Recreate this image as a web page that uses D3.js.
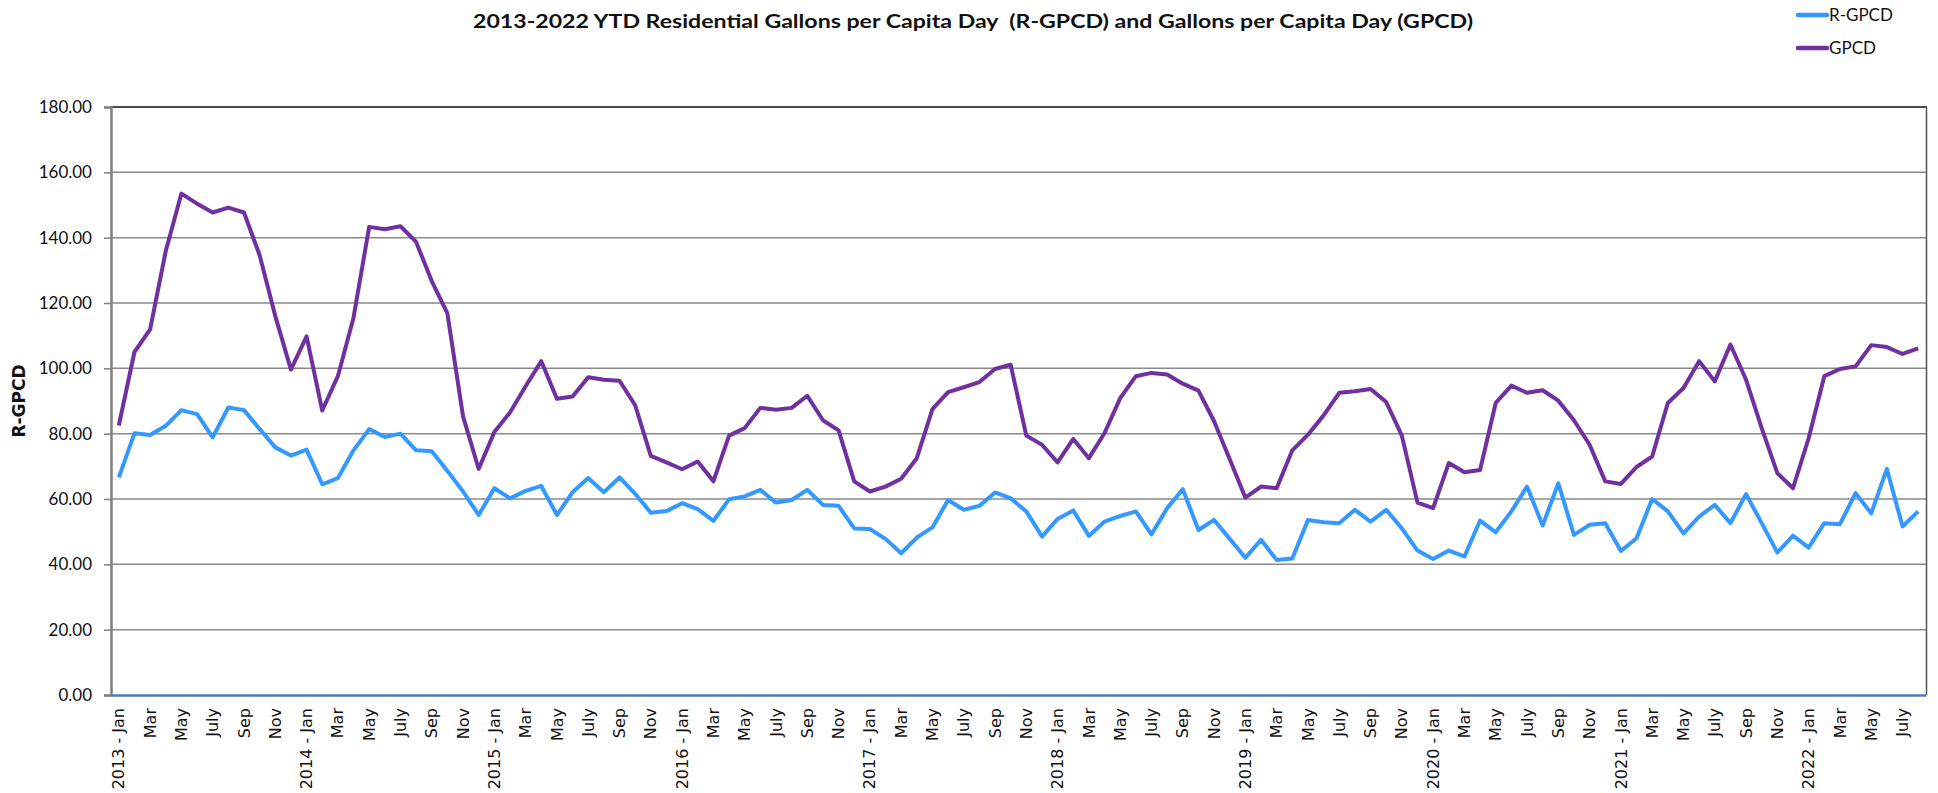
<!DOCTYPE html>
<html>
<head>
<meta charset="utf-8">
<script src="https://cdn.jsdelivr.net/npm/d3@7"></script>
<style>
  html, body { margin: 0; padding: 0; background: #fff; }
  svg { display: block; }
</style>
</head>
<body>
<svg id="chart" width="1938" height="793"></svg>
<script>
// ---- data ----
const years = [2013, 2014, 2015, 2016, 2017, 2018, 2019, 2020, 2021, 2022];
const monthNames = ["Jan","Feb","Mar","Apr","May","Jun","July","Aug","Sep","Oct","Nov","Dec"];
const seriesNames = ["R-GPCD", "GPCD"];
const yTicks = [0, 20, 40, 60, 80, 100, 120, 140, 160, 180];

const rgpcd = [
  66.6,80.1,79.6,82.4,87.2,86.0,78.9,88.0,87.2,81.4,75.8,73.3,
  75.1,64.5,66.4,74.9,81.4,79.0,80.0,74.9,74.6,68.6,62.3,55.1,
  63.3,60.2,62.5,64.0,55.1,62.1,66.4,62.1,66.6,61.6,55.8,56.3,
  58.7,56.9,53.3,59.9,60.8,62.8,58.9,59.7,62.8,58.2,57.9,51.0,
  50.8,47.8,43.4,48.2,51.3,59.7,56.7,57.9,62.0,60.2,56.2,48.5,
  53.9,56.5,48.7,53.1,54.8,56.2,49.2,57.2,63.0,50.5,53.6,47.8,
  42.0,47.5,41.3,41.8,53.6,52.9,52.6,56.7,53.1,56.7,51.0,44.2,
  41.6,44.2,42.4,53.4,49.8,56.2,63.8,51.9,64.8,49.0,52.1,52.6,
  44.1,48.0,60.0,56.2,49.5,54.6,58.2,52.6,61.5,52.6,43.6,48.8,
  45.1,52.6,52.3,61.8,55.6,69.2,51.6,56.2
];
const gpcd = [
  82.5,105.0,111.9,135.9,153.5,150.4,147.7,149.2,147.7,134.6,116.0,99.6,
  109.8,87.1,97.6,115.5,143.3,142.6,143.5,138.7,126.7,116.8,85.3,69.2,
  80.5,86.5,94.5,102.2,90.7,91.4,97.3,96.5,96.2,88.7,73.2,71.2,
  69.1,71.5,65.4,79.4,81.7,87.9,87.3,87.9,91.6,84.1,81.0,65.4,
  62.3,63.8,66.2,72.5,87.5,92.7,94.2,95.8,99.8,101.1,79.4,76.6,
  71.2,78.4,72.5,80.2,90.9,97.6,98.6,98.1,95.3,93.2,83.8,72.2,
  60.4,63.8,63.3,74.9,79.7,85.6,92.5,93.0,93.7,89.7,79.4,58.9,
  57.2,71.0,68.2,68.9,89.4,94.7,92.5,93.3,90.1,84.1,76.6,65.4,
  64.6,69.8,73.0,89.4,94.0,102.2,96.0,107.3,96.5,81.7,67.9,63.3,
  78.6,97.6,99.8,100.6,107.1,106.5,104.4,106.1
];

// categories
const categories = [];
years.forEach(yr => monthNames.forEach((m, mi) => {
  if (categories.length < rgpcd.length) categories.push({year: yr, month: m, mi: mi});
}));
function tickLabel(c) {
  if (c.mi === 0) return c.year + " - " + c.month;
  if (c.mi % 2 === 0) return c.month;
  return "";
}

// ---- layout ----
const svg = d3.select("#chart");
const plotLeft = 111, plotRight = 1926, plotTop = 107, plotBottom = 695;

const x = d3.scaleBand().domain(d3.range(categories.length)).range([plotLeft, plotRight]).paddingInner(0).paddingOuter(0);
const y = d3.scaleLinear().domain([0, 180]).range([plotBottom, plotTop]);
const cx = i => x(i) + x.bandwidth() / 2;

// gridlines
svg.append("g").selectAll("line").data(yTicks.filter(t => t > 0 && t < 180)).join("line")
  .attr("x1", plotLeft).attr("x2", plotRight)
  .attr("y1", d => y(d)).attr("y2", d => y(d))
  .attr("stroke", "#8a8a8a").attr("stroke-width", 1.5);

// top and right border
svg.append("line").attr("x1", plotLeft).attr("x2", plotRight + 1).attr("y1", plotTop).attr("y2", plotTop)
  .attr("stroke", "#111").attr("stroke-width", 1.5);
svg.append("line").attr("x1", plotRight + 0.5).attr("x2", plotRight + 0.5).attr("y1", plotTop).attr("y2", plotBottom)
  .attr("stroke", "#555").attr("stroke-width", 1.5);

// y axis
const yAxis = d3.axisLeft(y).tickValues(yTicks).tickSize(7).tickPadding(12)
  .tickFormat(d3.format(".2f"));
const gy = svg.append("g").attr("transform", `translate(${plotLeft},0)`).call(yAxis);
gy.attr("font-size", null).attr("font-family", null);
gy.select(".domain").attr("stroke", "#808080").attr("stroke-width", 2.5);
gy.selectAll(".tick line").attr("stroke", "#808080").attr("stroke-width", 1.5);
gy.selectAll(".tick text")
  .style("font-family", "Lato, 'Open Sans', sans-serif")
  .style("font-size", "17px").attr("fill", "#111");

// x axis
const xAxis = d3.axisBottom(x).tickSize(0).tickFormat(i => tickLabel(categories[i]));
const gx = svg.append("g").attr("transform", `translate(0,${plotBottom})`).call(xAxis);
gx.attr("font-size", null).attr("font-family", null);
gx.select(".domain").attr("stroke", "#4a7ebb").attr("stroke-width", 2.5);
gx.selectAll(".tick text")
  .style("font-family", "'DejaVu Sans', Verdana, sans-serif")
  .style("font-size", "16px").attr("fill", "#111")
  .attr("text-anchor", "end")
  .attr("transform", "rotate(-90)")
  .attr("x", -13).attr("y", 0).attr("dy", "0.35em");

// y axis title
svg.append("text")
  .attr("transform", `translate(25,${(plotTop + plotBottom) / 2}) rotate(-90)`)
  .attr("text-anchor", "middle")
  .style("font-family", "'DejaVu Sans', Verdana, sans-serif")
  .style("font-weight", "bold").style("font-size", "17px").attr("fill", "#111")
  .text("R-GPCD");

// lines
const colors = {"R-GPCD": "#3399ff", "GPCD": "#7030a0"};
const line = d3.line().x((d, i) => cx(i)).y(d => y(d));
svg.append("path").datum(gpcd).attr("d", line).attr("fill", "none")
  .attr("stroke", colors["GPCD"]).attr("stroke-width", 4).attr("stroke-linejoin", "round");
svg.append("path").datum(rgpcd).attr("d", line).attr("fill", "none")
  .attr("stroke", colors["R-GPCD"]).attr("stroke-width", 4).attr("stroke-linejoin", "round");

// title
svg.append("text")
  .attr("x", 973).attr("y", 28).attr("text-anchor", "middle")
  .style("font-family", "Lato, 'Open Sans', sans-serif")
  .style("font-weight", "bold").style("font-size", "19px").style("white-space", "pre").attr("fill", "#111")
  .attr("textLength", 1000).attr("lengthAdjust", "spacingAndGlyphs")
  .text("2013-2022 YTD Residential Gallons per Capita Day  (R-GPCD) and Gallons per Capita Day (GPCD)");

// legend
const lg = svg.append("g");
seriesNames.forEach((s, k) => {
  const ly = 15 + k * 33;
  lg.append("line").attr("x1", 1798).attr("x2", 1827).attr("y1", ly).attr("y2", ly)
    .attr("stroke", colors[s]).attr("stroke-width", 4.5).attr("stroke-linecap", "round");
  lg.append("text").attr("x", 1829).attr("y", ly).attr("dy", "0.35em")
    .style("font-family", "Lato, 'Open Sans', sans-serif").style("font-size", "17px").attr("fill", "#111")
    .text(s);
});
</script>
</body>
</html>
